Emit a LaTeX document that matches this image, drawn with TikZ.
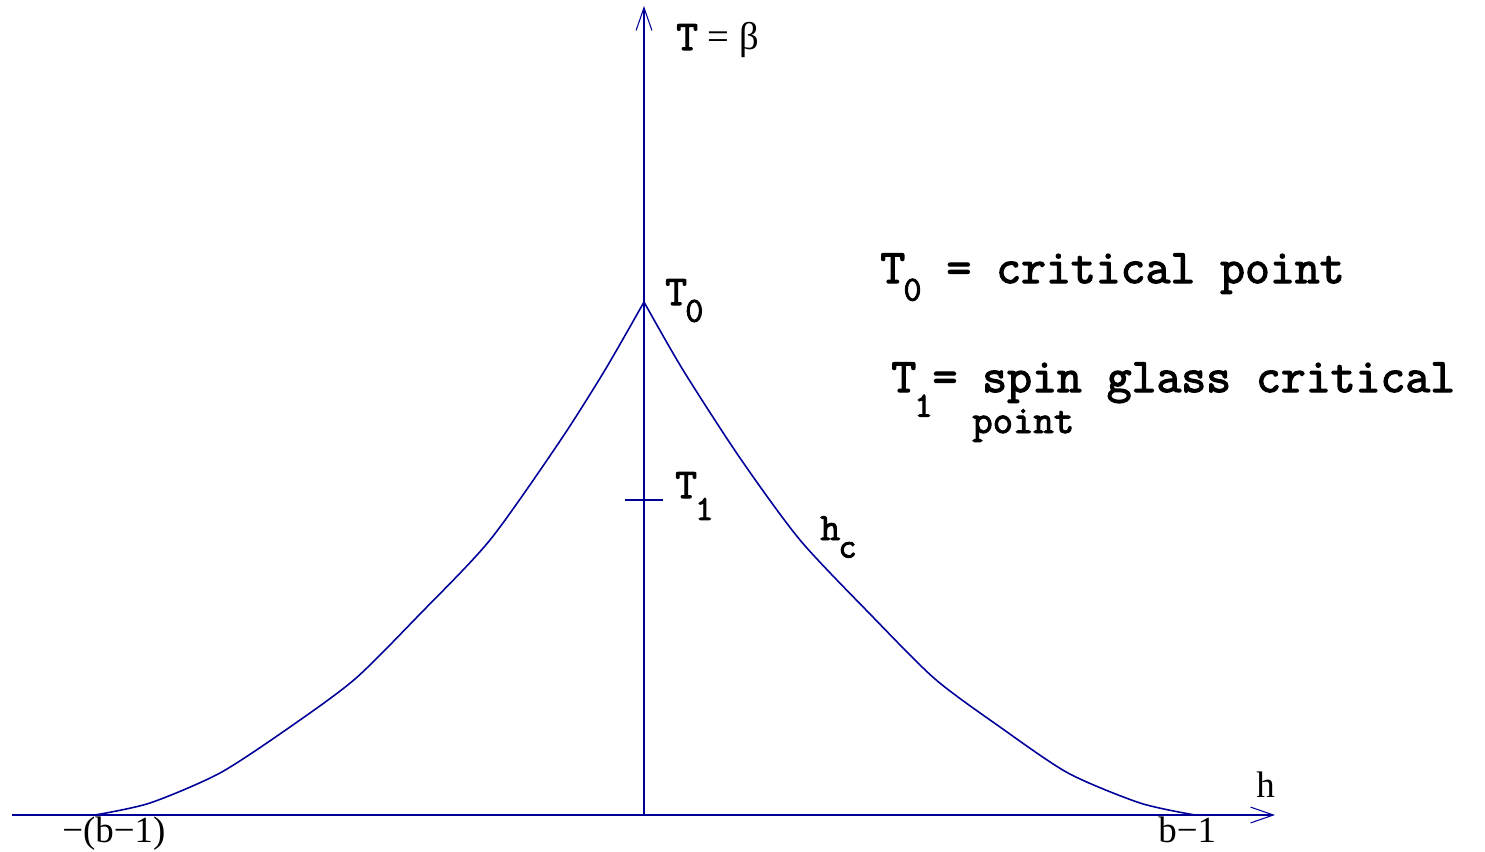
\documentclass[tikz,border=0pt]{standalone}
\usepackage{fontspec}
\setmainfont{Liberation Serif}
\newfontfamily\heavymono{Latin Modern Mono}[FakeBold=2.5]
\usetikzlibrary{arrows.meta}
\definecolor{lineblue}{HTML}{000099}
% label with a lowered index, as in the figure
\newcommand{\lowsub}[3][10pt]{#2\kern-1pt\raisebox{-#1}{\fontsize{20}{20}\selectfont #3}}

\begin{document}
\begin{tikzpicture}[x=0.02cm, y=-0.02cm,
    axis/.style={draw=lineblue, line width=1pt, -{Straight Barb[length=13pt, width=9pt, line width=0.6pt]}},
    curve/.style={draw=lineblue, line width=0.9pt},
    monolab/.style={font=\heavymono\fontsize{24}{26}\selectfont, inner sep=0pt, anchor=base west},
    leglab/.style={font=\heavymono\fontsize{27.5}{30}\selectfont, inner sep=0pt, anchor=base west},
    serlab/.style={font=\fontsize{21}{23}\selectfont, inner sep=0pt, anchor=base west}]

  \useasboundingbox (0,0) rectangle (1485,852);

  % Axes
  \coordinate (origin) at (644,815);
  \coordinate (hstart) at (12,815);
  \coordinate (hend) at (1275,815);
  \coordinate (tend) at (644,6);
  \draw[axis] (hstart) -- (hend);
  \draw[axis] (origin) -- (tend);

  % Tick at T1
  \coordinate (tickl) at (625,500);
  \coordinate (tickr) at (663,500);
  \draw[curve] (tickl) -- (tickr);

  % Critical line h_c
  \coordinate (peak) at (644,302);
  \draw[curve] plot[smooth, tension=0.45] coordinates {(95,815) (150,803) (220,773)
    (290,727) (355,679) (420,614) (490,540) (560,441) (605,370) (644,302)};
  \draw[curve] plot[smooth, tension=0.45] coordinates {(644,302) (683,370) (740,458)
    (800,540) (870,614) (935,679) (1000,727) (1068,773) (1140,803) (1195,815)};

  % Axis labels
  \node[monolab] (tlabel) at (676,50) {T{\normalfont\fontsize{22}{24}\selectfont\ = β}};
  \node[serlab] (hlabel) at (1256,797) {h};
  \node[serlab] (lowb) at (62,842) {−(b−1)};
  \node[serlab] (highb) at (1158,842) {b−1};

  % Point labels
  \node[monolab] (tzero) at (665,305) {\lowsub[9.5pt]{T}{0}};
  \node[monolab] (tone) at (675,498) {\lowsub[12.5pt]{T}{1}};
  \node[monolab, font=\heavymono\fontsize{22}{24}\selectfont] (hc) at (820,540) {\lowsub[10pt]{h}{c}};

  % Legend
  \node[leglab] (legzero) at (880,283) {\lowsub[10pt]{T}{0} = critical point};
  \node[leglab] (legone) at (891,392) {\lowsub[14pt]{T}{1}= spin glass critical};
  \node[leglab, font=\heavymono\fontsize{22.5}{25}\selectfont] (legpoint) at (972,433) {point};
\end{tikzpicture}
\end{document}
